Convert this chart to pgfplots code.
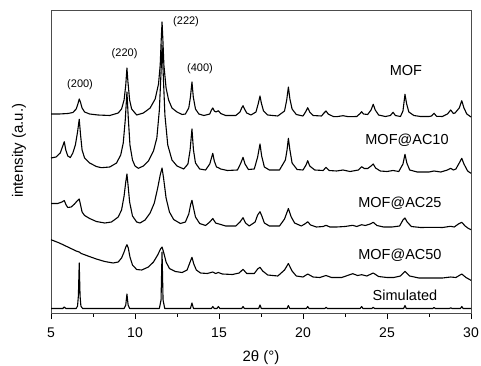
\documentclass[border=0pt]{standalone}
\usepackage{pgfplots}
\pgfplotsset{compat=1.18}
\usepackage{fontspec}
\setmainfont{Liberation Sans}
\begin{document}
\begin{tikzpicture}[x=1pt,y=1pt]
\useasboundingbox (0,0) rectangle (481,366);
\begin{axis}[
  at={(51pt,53pt)}, anchor=south west,
  scale only axis, width=420pt, height=303pt,
  xmin=5, xmax=30, ymin=10, ymax=313, y dir=reverse,
  clip=false,
  xtick={5,10,15,20,25,30}, minor x tick num=1,
  ytick=\empty, xtick pos=left, tick align=outside,
  major tick length=6pt, minor tick length=3.5pt,
  tick style={black, line width=0.8pt},
  axis line style={black!70, line width=0.8pt},
  /pgf/number format/assume math mode=true,
  ticklabel style={font=\fontsize{14}{16}\selectfont},
  xticklabel style={yshift=-5pt},
  xlabel={2θ (°)},
  xlabel style={font=\fontsize{15}{18}\selectfont, at={(axis description cs:0.5,0)}, anchor=center, yshift=-45pt},
  ylabel={intensity (a.u.)},
  ylabel style={font=\fontsize{15}{18}\selectfont, at={(axis description cs:-0.0762,0.535)}, anchor=center},
  curve/.style={black, line width=1.1pt, line join=round, mark=none},
]
% MOF
\addplot[curve] coordinates {(5.00,114) (5.5,114) (6.0,113.5) (6.3,112.5) (6.5,109) (6.6,104) (6.68,99) (6.75,102) (6.85,108) (7.0,112) (7.3,114) (7.8,115) (8.5,115.5)
(9.0,113) (9.2,109) (9.35,100) (9.45,85) (9.52,68) (9.58,82) (9.68,100) (9.8,109) (10.0,113) (10.1,115)
(10.5,113) (10.9,108) (11.2,99) (11.4,84) (11.5,65) (11.56,40) (11.61,22) (11.66,40) (11.72,65) (11.85,88) (12.0,100) (12.2,108) (12.5,112) (12.8,114.5)
(13.0,114) (13.2,108) (13.3,97) (13.39,82) (13.47,97) (13.6,109) (13.8,114) (14.1,115.5) (14.45,114) (14.55,110) (14.63,108) (14.72,111) (14.82,112) (14.96,110.7) (15.1,113.5) (15.4,115.5)
(16.0,115.5) (16.25,112) (16.35,108) (16.43,105.7) (16.52,109) (16.65,113) (16.9,115) (17.2,112) (17.33,104) (17.44,96) (17.52,103) (17.65,111) (17.9,115)
(18.5,116) (18.9,111) (19.03,100) (19.13,87) (19.22,99) (19.35,109) (19.6,114.5) (20.0,116) (20.15,112) (20.28,107.7) (20.4,112) (20.6,115.5)
(21.1,116) (21.25,113) (21.37,111) (21.5,114) (21.8,116.5) (22.0,116.7) (22.38,115.7) (22.7,116.7) (23.2,116.5) (23.4,113.5) (23.49,111.7) (23.6,114) (23.85,114.5)
(24.05,110) (24.18,104.3) (24.3,110) (24.5,115) (24.9,116.5) (25.2,115.5) (25.36,112.3) (25.5,115.5) (25.8,116.5) (25.95,111) (26.07,94.3) (26.17,104) (26.3,112) (26.6,115.5)
(27.0,116.5) (27.5,116.5) (27.65,116) (27.8,113.3) (27.95,116.3) (28.3,116.5) (28.6,114) (28.79,110) (28.95,113.5) (29.05,113) (29.3,108) (29.45,100.7) (29.58,108) (29.75,114) (30.0,117)};
% MOF@AC10
\addplot[curve] coordinates {(5.0,158) (5.3,157) (5.55,153) (5.7,146) (5.79,141.7) (5.88,150) (6.0,156) (6.15,157.5) (6.3,153) (6.45,145) (6.58,132) (6.68,119.3) (6.76,135) (6.85,150) (7.0,158) (7.3,163) (7.7,166.5) (8.0,167.7) (8.5,167)
(8.9,163) (9.15,155) (9.3,143) (9.42,120) (9.52,92) (9.6,118) (9.7,145) (9.85,160) (10.0,166) (10.2,168.3)
(10.5,166) (10.8,161) (11.1,151) (11.3,138) (11.45,110) (11.55,72) (11.61,45) (11.68,74) (11.78,115) (11.95,145) (12.2,160) (12.5,166) (12.9,169)
(13.15,164) (13.28,150) (13.39,129) (13.48,150) (13.6,163) (13.85,169) (14.2,170) (14.45,164) (14.55,158) (14.63,153.3) (14.72,161) (14.85,167) (14.96,167.7) (15.1,169) (15.5,170.5)
(16.1,170) (16.3,163) (16.43,157.3) (16.55,164) (16.75,169.5) (17.1,169) (17.3,157) (17.44,144) (17.54,156) (17.7,167) (18.0,170)
(18.6,170) (18.95,160) (19.05,150) (19.13,138.3) (19.22,150) (19.35,163) (19.65,169.5) (20.0,170) (20.18,165) (20.28,160.7) (20.4,166) (20.7,170)
(21.2,170.5) (21.37,167.3) (21.55,170.5) (22.0,171) (22.38,170) (22.8,171.5) (23.3,170) (23.49,166.7) (23.65,168.5) (23.85,168.5) (24.05,166) (24.18,164) (24.32,168) (24.6,171)
(25.0,171.5) (25.36,170.5) (25.7,171.5) (25.95,164) (26.07,154.3) (26.18,163) (26.35,170) (26.8,172) (27.5,172) (27.8,171) (28.2,172) (28.6,170) (28.79,168.3) (28.95,170) (29.1,169) (29.3,163) (29.45,158.3) (29.58,164) (29.8,171) (30.0,173.3)};
% MOF@AC25
\addplot[curve] coordinates {(5.0,203.5) (5.4,203.5) (5.65,202) (5.79,200.5) (5.9,205) (6.0,207.5) (6.2,207) (6.4,204) (6.55,201) (6.68,199) (6.76,205) (6.85,212) (7.0,215.5) (7.3,218.5) (7.7,221.5) (8.2,223) (8.6,222)
(9.0,217) (9.2,210) (9.35,196) (9.45,182) (9.52,174) (9.58,184) (9.68,202) (9.85,216) (10.1,222) (10.3,223)
(10.6,220) (10.9,213) (11.15,203) (11.35,188) (11.5,175) (11.61,168) (11.7,178) (11.85,198) (12.05,212) (12.3,219.5) (12.7,223.5)
(13.0,222) (13.2,214) (13.32,204) (13.39,200.3) (13.47,207) (13.6,217) (13.85,223.5) (14.2,225.5) (14.45,222) (14.63,218.5) (14.8,223) (15.0,224) (15.4,226)
(16.0,226) (16.25,222) (16.43,217.7) (16.58,223) (16.8,226) (17.15,222) (17.3,215) (17.44,211.7) (17.55,216) (17.7,223) (18.0,226)
(18.6,226) (18.9,219) (19.13,208.5) (19.3,217) (19.5,223) (19.9,226) (20.15,223.5) (20.28,221.7) (20.45,225) (20.8,227)
(21.2,226.5) (21.37,225.3) (21.6,227) (22.0,227) (22.5,226.5) (22.96,225.3) (23.2,226.5) (23.49,224.7) (23.7,225.5) (24.0,224) (24.18,222.3) (24.4,225.5) (24.8,227)
(25.3,227) (25.75,226) (25.95,220) (26.07,218) (26.2,222) (26.45,226.5) (27.0,227.5) (27.8,227.3) (28.3,227.5) (28.79,226.3) (29.0,227) (29.25,224) (29.45,222.3) (29.65,226) (29.85,228.5) (30.0,229.7)};
% MOF@AC50
\addplot[curve] coordinates {(5.0,239.7) (5.5,243) (6.0,247) (6.5,251) (6.68,252) (6.8,253.5) (7.2,256) (7.7,259) (8.2,261.5) (8.7,263)
(9.0,262) (9.2,258) (9.35,252) (9.45,247) (9.52,244.7) (9.6,248) (9.7,257) (9.85,265) (10.1,269.5) (10.4,270)
(10.8,267) (11.1,262) (11.35,255) (11.52,249) (11.61,247) (11.7,252) (11.85,262) (12.05,268.5) (12.4,271.5) (12.8,272.5)
(13.1,270) (13.28,262) (13.39,257.3) (13.5,264) (13.65,270) (13.9,273) (14.3,273.5) (14.63,272) (14.8,273.5) (14.96,272.5) (15.2,274) (15.8,274.5)
(16.2,273) (16.43,269.3) (16.65,273.5) (17.1,273.5) (17.3,269) (17.44,267.3) (17.6,271) (17.9,275) (18.5,276) (18.9,270) (19.13,263.5) (19.35,271) (19.6,276)
(20.0,277) (20.28,274) (20.6,277) (21.0,277.5) (21.37,275.5) (21.7,277.5) (22.3,277.5) (22.96,273.7) (23.25,275.5) (23.49,274.7) (23.8,276) (24.18,273) (24.5,276.5)
(25.0,277.5) (25.4,277.5) (25.8,276) (26.07,271.3) (26.35,276) (26.9,278) (27.8,278) (28.3,278) (28.79,277) (29.1,277.5) (29.45,274) (29.7,277.5) (30.0,280.3)};
% Simulated
\addplot[curve] coordinates {(5.0,308.5) (5.7,308.5) (5.79,307) (5.88,308.5) (6.5,308.5) (6.58,306) (6.63,296) (6.68,263) (6.73,296) (6.78,306) (6.88,308.5)
(9.35,308.5) (9.45,305) (9.52,294) (9.59,305) (9.68,308.5) (11.45,308.5) (11.55,300) (11.61,252) (11.67,300) (11.77,308.5)
(13.3,308.5) (13.39,303) (13.48,308.5) (14.55,308.5) (14.63,306.5) (14.72,308.5) (14.88,308.5) (14.96,306.5) (15.05,308.5)
(16.35,308.5) (16.43,306.5) (16.51,308.5) (17.36,308.5) (17.44,305) (17.52,308.5) (19.05,308.5) (19.13,305.5) (19.21,308.5)
(20.2,308.5) (20.28,306.5) (20.36,308.5) (21.3,308.5) (21.37,307.3) (21.45,308.5) (23.4,308.5) (23.49,306.5) (23.57,308.5)
(24.1,308.5) (24.18,307.3) (24.26,308.5) (25.99,308.5) (26.07,305.5) (26.15,308.5) (27.72,308.5) (27.8,307.5) (27.88,308.5)
(28.71,308.5) (28.79,307.8) (28.87,308.5) (29.37,308.5) (29.45,306.5) (29.53,308.5) (30,308.5)};
% labels
\node[font=\fontsize{14.5}{17}\selectfont] at (axis cs:26.13,71) {MOF};
\node[font=\fontsize{14.5}{17}\selectfont] at (axis cs:26.19,140) {MOF@AC10};
\node[font=\fontsize{14.5}{17}\selectfont] at (axis cs:25.77,203) {MOF@AC25};
\node[font=\fontsize{14.5}{17}\selectfont] at (axis cs:25.77,255) {MOF@AC50};
\node[font=\fontsize{14.5}{17}\selectfont] at (axis cs:26.07,295) {Simulated};
\node[font=\fontsize{11}{13}\selectfont] at (axis cs:6.73,85) {(200)};
\node[font=\fontsize{11}{13}\selectfont] at (axis cs:9.38,54) {(220)};
\node[font=\fontsize{11}{13}\selectfont] at (axis cs:13.04,22) {(222)};
\node[font=\fontsize{11}{13}\selectfont] at (axis cs:13.87,69) {(400)};
\end{axis}
\end{tikzpicture}
\end{document}
